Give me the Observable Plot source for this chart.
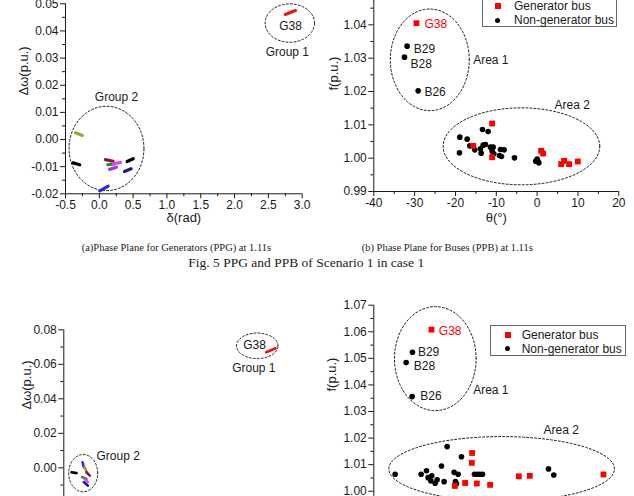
<!DOCTYPE html>
<html>
<head>
<meta charset="utf-8">
<script src="https://cdn.jsdelivr.net/npm/d3@7"></script>
<script src="https://cdn.jsdelivr.net/npm/@observablehq/plot@0.6"></script>
<style>
  html, body { margin: 0; padding: 0; background: #fff; }
  body { width: 634px; height: 496px; overflow: hidden; position: relative; font-family: "Liberation Sans", Arial, sans-serif; color: #1a1a1a; }
  .panel { position: absolute; }
  .panel svg { overflow: visible; }
  .cap { position: absolute; font-family: "Liberation Serif", "Times New Roman", serif; white-space: nowrap; color: #222; }
  .legend { position: absolute; border: 1px solid #666; background: #fff; box-sizing: border-box; font-size: 12px; }
  .legend .row { position: absolute; left: 0; white-space: nowrap; line-height: 12px; }
  .legend .sq { position: absolute; width: 6px; height: 6px; background: #ff0000; }
  .legend .ci { position: absolute; width: 5px; height: 5px; border-radius: 50%; background: #000; }
</style>
</head>
<body>
<div id="tl" class="panel" style="left:0px; top:-20px;"></div>
<div id="tr" class="panel" style="left:320px; top:-20px;"></div>
<div id="bl" class="panel" style="left:0px; top:300px;"></div>
<div id="br" class="panel" style="left:320px; top:290px;"></div>

<div class="legend" style="left:481.7px; top:-3.7px; width:135px; height:31px;">
  <div class="sq" style="left:12px; top:5.7px;"></div>
  <div class="row" style="left:31.3px; top:2.7px;">Generator bus</div>
  <div class="ci" style="left:12.5px; top:20.2px;"></div>
  <div class="row" style="left:31.3px; top:16.7px;">Non-generator bus</div>
</div>
<div class="legend" style="left:490px; top:325px; width:136px; height:31px;">
  <div class="sq" style="left:13.7px; top:5.5px;"></div>
  <div class="row" style="left:30.7px; top:2.5px;">Generator bus</div>
  <div class="ci" style="left:14.2px; top:20px;"></div>
  <div class="row" style="left:30.7px; top:16.5px;">Non-generator bus</div>
</div>

<div class="cap" style="left:81.7px; top:242px; font-size:10.5px; line-height:12px;">(a)Phase Plane for Generators (PPG) at 1.11s</div>
<div class="cap" style="left:361.7px; top:242px; font-size:10.5px; line-height:12px;">(b) Phase Plane for Buses (PPB) at 1.11s</div>
<div class="cap" style="left:188.3px; top:255px; font-size:13.5px; line-height:16px;">Fig. 5 PPG and PPB of Scenario 1 in case 1</div>

<script>
// ---------- Tick values ----------
const ppgXMajor = [-0.5, 0.0, 0.5, 1.0, 1.5, 2.0, 2.5, 3.0];
const ppgXMinor = [-0.25, 0.25, 0.75, 1.25, 1.75, 2.25, 2.75];
const ppgYMajorTop = [-0.02, -0.01, 0.00, 0.01, 0.02, 0.03, 0.04, 0.05];
const ppgYMinorTop = [-0.015, -0.005, 0.005, 0.015, 0.025, 0.035, 0.045];
const ppgYMajorBot = [-0.02, 0.00, 0.02, 0.04, 0.06, 0.08];
const ppgYMinorBot = [-0.01, 0.01, 0.03, 0.05, 0.07];
const ppbXMajor = [-40, -30, -20, -10, 0, 10, 20];
const ppbXMinor = [-35, -25, -15, -5, 5, 15];
const ppbYMajorTop = [0.99, 1.00, 1.01, 1.02, 1.03, 1.04, 1.05];
const ppbYMinorTop = [0.995, 1.005, 1.015, 1.025, 1.035, 1.045];
const ppbYMajorBot = [0.99, 1.00, 1.01, 1.02, 1.03, 1.04, 1.05, 1.06, 1.07];
const ppbYMinorBot = [0.995, 1.005, 1.015, 1.025, 1.035, 1.045, 1.055, 1.065];

// ---------- (a) PPG, scenario 1: generator trajectories (δ rad, Δω p.u.) ----------
const ppgTopStreaks = [
  {gen: "G38", color: "#ee1111", x1: 2.75, y1: 0.0461, x2: 2.90, y2: 0.0475},
  {gen: "g1", color: "#a3a32a", x1: -0.35, y1: 0.0025, x2: -0.25, y2: 0.0015},
  {gen: "g2", color: "#000000", x1: -0.39, y1: -0.0086, x2: -0.29, y2: -0.0093},
  {gen: "g3", color: "#8b1a3a", x1: 0.09, y1: -0.0074, x2: 0.205, y2: -0.0080},
  {gen: "g4", color: "#1f8f1f", x1: 0.125, y1: -0.0093, x2: 0.225, y2: -0.0090},
  {gen: "g5", color: "#ee3bee", x1: 0.205, y1: -0.0090, x2: 0.313, y2: -0.0084},
  {gen: "g6", color: "#9a3be0", x1: 0.151, y1: -0.0110, x2: 0.254, y2: -0.0102},
  {gen: "g7", color: "#1c1c8c", x1: 0.372, y1: -0.0118, x2: 0.471, y2: -0.0108},
  {gen: "g8", color: "#000000", x1: 0.412, y1: -0.0081, x2: 0.501, y2: -0.0071},
  {gen: "g9", color: "#2a2af0", x1: 0.007, y1: -0.0189, x2: 0.131, y2: -0.0172}
];
const ppgTopGroups = [
  {id: "Group 1", cx: 2.817, cy: 0.0429, rx: 0.365, ry: 0.00707},
  {id: "Group 2", cx: 0.106, cy: -0.0033, rx: 0.554, ry: 0.01555}
];
const ppgTopLabels = [
  {text: "G38", x: 2.827, y: 0.0416, anchor: "middle"},
  {text: "Group 1", x: 2.78, y: 0.0321, anchor: "middle"},
  {text: "Group 2", x: 0.254, y: 0.0155, anchor: "middle"}
];

// ---------- (b) PPB, scenario 1: buses (θ °, f p.u.) ----------
const ppbTopGen = [
  {bus: "G38", theta: -29.55, f: 1.0405},
  {bus: "g", theta: -11.02, f: 1.0104},
  {bus: "g", theta: -15.67, f: 1.0037},
  {bus: "g", theta: -11.02, f: 1.0003},
  {bus: "g", theta: 0.98, f: 1.0022},
  {bus: "g", theta: 1.47, f: 1.0014},
  {bus: "g", theta: 5.88, f: 0.9982},
  {bus: "g", theta: 6.61, f: 0.9992},
  {bus: "g", theta: 7.84, f: 0.9982},
  {bus: "g", theta: 9.96, f: 0.9990}
];
const ppbTopNonGen = [
  {bus: "B29", theta: -31.84, f: 1.0336},
  {bus: "B28", theta: -32.49, f: 1.0303},
  {bus: "B26", theta: -29.14, f: 1.0202},
  {bus: "b", theta: -18.94, f: 1.0063},
  {bus: "b", theta: -17.14, f: 1.0057},
  {bus: "b", theta: -16.49, f: 1.0037},
  {bus: "b", theta: -15.27, f: 1.0025},
  {bus: "b", theta: -19.02, f: 1.0016},
  {bus: "b", theta: -13.39, f: 1.0086},
  {bus: "b", theta: -12.0, f: 1.0080},
  {bus: "b", theta: -13.88, f: 1.0028},
  {bus: "b", theta: -13.22, f: 1.0039},
  {bus: "b", theta: -12.65, f: 1.0041},
  {bus: "b", theta: -13.71, f: 1.0015},
  {bus: "b", theta: -11.43, f: 1.0033},
  {bus: "b", theta: -10.78, f: 1.0033},
  {bus: "b", theta: -11.02, f: 1.0021},
  {bus: "b", theta: -10.61, f: 1.0013},
  {bus: "b", theta: -9.22, f: 1.0008},
  {bus: "b", theta: -8.73, f: 1.0005},
  {bus: "b", theta: -8.98, f: 1.0026},
  {bus: "b", theta: -8.08, f: 1.0025},
  {bus: "b", theta: -5.55, f: 1.0001},
  {bus: "b", theta: -0.33, f: 0.9991},
  {bus: "b", theta: 0.16, f: 0.9992},
  {bus: "b", theta: 0.41, f: 0.9986},
  {bus: "b", theta: 0.0, f: 0.9997}
];
const ppbTopAreas = [
  {id: "Area 1", cx: -26.29, cy: 1.0295, rx: 9.67, ry: 0.01525},
  {id: "Area 2", cx: -3.84, cy: 1.00355, rx: 19.18, ry: 0.01155}
];
const ppbTopLabels = [
  {text: "G38", x: -27.6, y: 1.0401, color: "#ff0000", anchor: "start"},
  {text: "B29", x: -30.2, y: 1.0326, color: "#1a1a1a", anchor: "start"},
  {text: "B28", x: -31.0, y: 1.0283, color: "#1a1a1a", anchor: "start"},
  {text: "B26", x: -27.6, y: 1.0198, color: "#1a1a1a", anchor: "start"},
  {text: "Area 1", x: -15.67, y: 1.0295, color: "#1a1a1a", anchor: "start"},
  {text: "Area 2", x: 8.57, y: 1.0160, color: "#1a1a1a", anchor: "middle"}
];

// ---------- second figure: PPG ----------
const ppgBotStreaks = [
  {gen: "G38", color: "#ee1111", x1: 2.47, y1: 0.0670, x2: 2.61, y2: 0.0693},
  {gen: "g2", color: "#000000", x1: -0.387, y1: -0.0026, x2: -0.313, y2: -0.0031},
  {gen: "g9", color: "#2a2af0", x1: -0.225, y1: 0.0032, x2: -0.206, y2: 0.0003},
  {gen: "g1", color: "#a3a32a", x1: -0.192, y1: 0.0003, x2: -0.167, y2: -0.0026},
  {gen: "g3", color: "#8b1a3a", x1: -0.167, y1: -0.0026, x2: -0.118, y2: -0.0045},
  {gen: "g4", color: "#1f8f1f", x1: -0.23, y1: -0.0054, x2: -0.167, y2: -0.0064},
  {gen: "g5", color: "#ee3bee", x1: -0.196, y1: -0.0064, x2: -0.148, y2: -0.0083},
  {gen: "g7", color: "#1c1c8c", x1: -0.206, y1: -0.0083, x2: -0.148, y2: -0.0103}
];
const ppgBotGroups = [
  {id: "Group 1", cx: 2.34, cy: 0.0707, rx: 0.304, ry: 0.00743},
  {id: "Group 2", cx: -0.215, cy: -0.0031, rx: 0.213, ry: 0.0108}
];
const ppgBotLabels = [
  {text: "G38", x: 2.30, y: 0.0709, anchor: "middle"},
  {text: "Group 1", x: 2.29, y: 0.0577, anchor: "middle"},
  {text: "Group 2", x: -0.02, y: 0.0070, anchor: "start"}
];

// ---------- second figure: PPB ----------
const ppbBotGen = [
  {bus: "G38", theta: -25.88, f: 1.0608},
  {bus: "g", theta: -15.92, f: 1.0144},
  {bus: "g", theta: -16.0, f: 1.0107},
  {bus: "g", theta: -20.16, f: 1.0020},
  {bus: "g", theta: -17.63, f: 1.0031},
  {bus: "g", theta: -14.78, f: 1.0029},
  {bus: "g", theta: -11.51, f: 1.0024},
  {bus: "g", theta: -4.49, f: 1.0056},
  {bus: "g", theta: -1.8, f: 1.0058},
  {bus: "g", theta: 16.24, f: 1.0063}
];
const ppbBotNonGen = [
  {bus: "B29", theta: -30.53, f: 1.0523},
  {bus: "B28", theta: -32.08, f: 1.0484},
  {bus: "B26", theta: -30.61, f: 1.0356},
  {bus: "b", theta: -34.78, f: 1.0064},
  {bus: "b", theta: -28.41, f: 1.0064},
  {bus: "b", theta: -27.1, f: 1.0077},
  {bus: "b", theta: -26.69, f: 1.0051},
  {bus: "b", theta: -25.8, f: 1.0058},
  {bus: "b", theta: -26.04, f: 1.0039},
  {bus: "b", theta: -24.98, f: 1.0030},
  {bus: "b", theta: -24.49, f: 1.0043},
  {bus: "b", theta: -23.43, f: 1.0095},
  {bus: "b", theta: -22.78, f: 1.0036},
  {bus: "b", theta: -22.04, f: 1.0168},
  {bus: "b", theta: -20.33, f: 1.0071},
  {bus: "b", theta: -19.35, f: 1.0064},
  {bus: "b", theta: -20.0, f: 1.0036},
  {bus: "b", theta: -19.76, f: 1.0028},
  {bus: "b", theta: -18.53, f: 1.0130},
  {bus: "b", theta: -15.35, f: 1.0064},
  {bus: "b", theta: -14.69, f: 1.0064},
  {bus: "b", theta: -14.04, f: 1.0064},
  {bus: "b", theta: -13.39, f: 1.0064},
  {bus: "b", theta: 2.78, f: 1.0084},
  {bus: "b", theta: 4.08, f: 1.0061}
];
const ppbBotAreas = [
  {id: "Area 1", cx: -24.94, cy: 1.0499, rx: 10.0, ry: 0.01957},
  {id: "Area 2", cx: -8.69, cy: 1.0084, rx: 27.63, ry: 0.01217}
];
const ppbBotLabels = [
  {text: "G38", x: -24.08, y: 1.0602, color: "#ff0000", anchor: "start"},
  {text: "B29", x: -29.2, y: 1.0523, color: "#1a1a1a", anchor: "start"},
  {text: "B28", x: -30.2, y: 1.0469, color: "#1a1a1a", anchor: "start"},
  {text: "B26", x: -28.6, y: 1.0357, color: "#1a1a1a", anchor: "start"},
  {text: "Area 1", x: -15.67, y: 1.0379, color: "#1a1a1a", anchor: "start"},
  {text: "Area 2", x: 5.88, y: 1.0228, color: "#1a1a1a", anchor: "middle"}
];

// ---------- helpers ----------
function ellipsePoints(list) {
  const pts = [];
  for (const e of list) {
    for (let i = 0; i <= 96; i++) {
      const a = (i / 96) * 2 * Math.PI;
      pts.push({id: e.id, x: e.cx + e.rx * Math.cos(a), y: e.cy + e.ry * Math.sin(a)});
    }
  }
  return pts;
}
const baseStyle = {fontFamily: "'Liberation Sans', Arial, sans-serif", fontSize: "12px", color: "#1a1a1a", background: "transparent", overflow: "visible"};

function axes(xMaj, xMin, yMaj, yMin, xFmt, yFmt, xDom, yDom) {
  return [
    Plot.axisX({ticks: xMaj, tickSize: 5, tickPadding: 2, tickFormat: xFmt, label: null, stroke: "#1a1a1a"}),
    Plot.axisX({ticks: xMin, tickSize: 3, fill: "none", label: null, stroke: "#1a1a1a"}),
    Plot.axisY({ticks: yMaj, tickSize: 5, tickPadding: 2, tickFormat: yFmt, label: null, stroke: "#1a1a1a"}),
    Plot.axisY({ticks: yMin, tickSize: 3, fill: "none", label: null, stroke: "#1a1a1a"}),
    Plot.ruleX([xDom[0]], {stroke: "#1a1a1a"}),
    Plot.ruleY([yDom[0]], {stroke: "#1a1a1a"})
  ];
}
function titles(xt, yt, xdy, ydx, ydy) {
  return [
    Plot.text([xt], {frameAnchor: "bottom", dy: xdy, fontSize: 13, fill: "#1a1a1a"}),
    Plot.text([yt], {frameAnchor: "left", rotate: -90, dx: ydx, dy: ydy, fontSize: 13, fill: "#1a1a1a"})
  ];
}
function labelMarks(labels, fillFn) {
  return ["start", "middle", "end"].map(anchor =>
    Plot.text(labels.filter(d => d.anchor === anchor), {
      x: "x", y: "y", text: "text", textAnchor: anchor, fontSize: 12,
      fill: fillFn
    })
  );
}
const f1 = d => d.toFixed(1), f2 = d => d.toFixed(2), f0 = d => String(d);

// ---------- (a) top-left ----------
{
  const xDom = [-0.5, 3.0], yDom = [-0.02, 0.05];
  const chart = Plot.plot({
    width: 320, height: 250, marginLeft: 65, marginRight: 18.3, marginTop: 23.3, marginBottom: 36.7,
    x: {domain: xDom, label: null}, y: {domain: yDom, label: null}, color: {type: "identity"},
    style: baseStyle,
    marks: [
      ...axes(ppgXMajor, ppgXMinor, ppgYMajorTop, ppgYMinorTop, f1, f2, xDom, yDom),
      ...titles("δ(rad)", "Δω(p.u.)", 28, -42, -3.3),
      Plot.line(ellipsePoints(ppgTopGroups), {x: "x", y: "y", z: "id", stroke: "#222", strokeWidth: 1, strokeDasharray: "2,2"}),
      Plot.link(ppgTopStreaks, {x1: "x1", y1: "y1", x2: "x2", y2: "y2", stroke: "color", strokeWidth: 3.2, strokeLinecap: "round"}),
      ...labelMarks(ppgTopLabels, "#1a1a1a")
    ]
  });
  document.getElementById("tl").append(chart);
}

// ---------- (b) top-right ----------
{
  const xDom = [-40, 20], yDom = [0.99, 1.05];
  const chart = Plot.plot({
    width: 314, height: 250, marginLeft: 53.3, marginRight: 15.7, marginTop: 11, marginBottom: 39,
    x: {domain: xDom, label: null}, y: {domain: yDom, label: null}, color: {type: "identity"},
    style: baseStyle,
    marks: [
      ...axes(ppbXMajor, ppbXMinor, ppbYMajorTop, ppbYMinorTop, f0, f2, xDom, yDom),
      ...titles("θ(°)", "f(p.u.)", 30, -40, -1),
      Plot.line(ellipsePoints(ppbTopAreas), {x: "x", y: "y", z: "id", stroke: "#222", strokeWidth: 1, strokeDasharray: "2,2"}),
      Plot.dot(ppbTopNonGen, {x: "theta", y: "f", r: 2.8, fill: "#000", stroke: "none"}),
      Plot.dot(ppbTopGen, {x: "theta", y: "f", r: 3.3, symbol: "square", fill: "#ff0000", stroke: "none"}),
      ...labelMarks(ppbTopLabels, "color")
    ]
  });
  document.getElementById("tr").append(chart);
}

// ---------- second figure PPG (bottom-left) ----------
{
  const xDom = [-0.5, 3.0], yDom = [-0.02, 0.08];
  const chart = Plot.plot({
    width: 320, height: 240, marginLeft: 63.3, marginRight: 18.3, marginTop: 29.3, marginBottom: 38.2,
    x: {domain: xDom, label: null}, y: {domain: yDom, label: null}, color: {type: "identity"},
    style: baseStyle,
    marks: [
      ...axes(ppgXMajor, ppgXMinor, ppgYMajorBot, ppgYMinorBot, f1, f2, xDom, yDom),
      ...titles("δ(rad)", "Δω(p.u.)", 30, -36.6, -6.5),
      Plot.line(ellipsePoints(ppgBotGroups), {x: "x", y: "y", z: "id", stroke: "#222", strokeWidth: 1, strokeDasharray: "2,2"}),
      Plot.link(ppgBotStreaks, {x1: "x1", y1: "y1", x2: "x2", y2: "y2", stroke: "color", strokeWidth: 2.6, strokeLinecap: "round"}),
      ...labelMarks(ppgBotLabels, "#1a1a1a")
    ]
  });
  document.getElementById("bl").append(chart);
}

// ---------- second figure PPB (bottom-right) ----------
{
  const xDom = [-40, 20], yDom = [0.99, 1.07];
  const chart = Plot.plot({
    width: 314, height: 270, marginLeft: 53.3, marginRight: 15.7, marginTop: 14.7, marginBottom: 42.7,
    x: {domain: xDom, label: null}, y: {domain: yDom, label: null}, color: {type: "identity"},
    style: baseStyle,
    marks: [
      ...axes(ppbXMajor, ppbXMinor, ppbYMajorBot, ppbYMinorBot, f0, f2, xDom, yDom),
      ...titles("θ(°)", "f(p.u.)", 32, -41.6, -20),
      Plot.line(ellipsePoints(ppbBotAreas), {x: "x", y: "y", z: "id", stroke: "#222", strokeWidth: 1, strokeDasharray: "2,2"}),
      Plot.dot(ppbBotNonGen, {x: "theta", y: "f", r: 2.8, fill: "#000", stroke: "none"}),
      Plot.dot(ppbBotGen, {x: "theta", y: "f", r: 3.3, symbol: "square", fill: "#ff0000", stroke: "none"}),
      ...labelMarks(ppbBotLabels, "color")
    ]
  });
  document.getElementById("br").append(chart);
}
</script>
</body>
</html>
